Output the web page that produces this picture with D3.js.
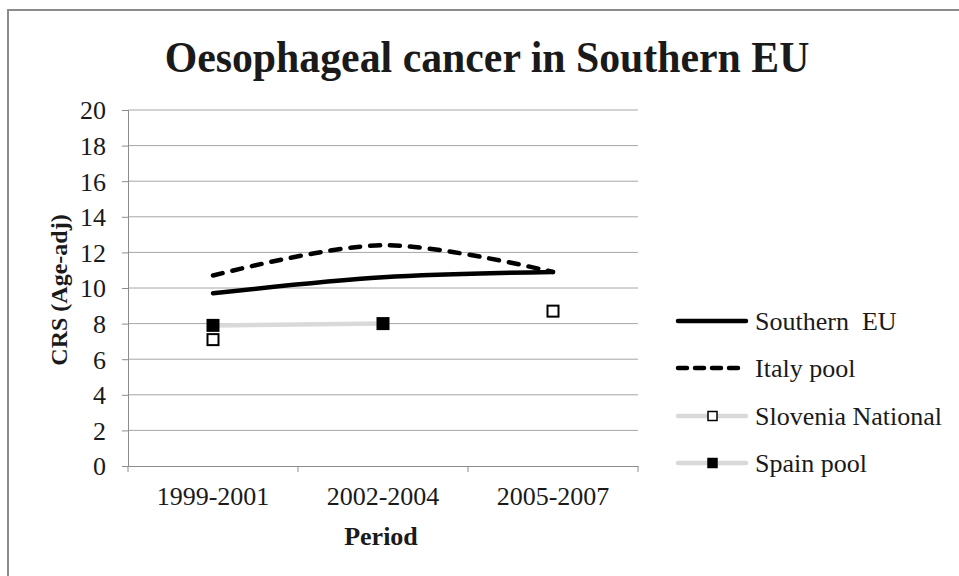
<!DOCTYPE html>
<html>
<head>
<meta charset="utf-8">
<script src="https://cdn.jsdelivr.net/npm/d3@7"></script>
<style>
  body { margin: 0; background: #fff; }
  svg text { font-family: "Liberation Serif", "Times New Roman", serif; fill: #1a1a1a; white-space: pre; }
</style>
</head>
<body>
<svg id="chart"></svg>
<script>
// data
var periods = ["1999-2001", "2002-2004", "2005-2007"];
var southernEU = [9.7, 10.6, 10.9];
var italyPool = [10.7, 12.4, 10.9];
var sloveniaNational = [7.1, null, 8.7];
var spainPool = [7.9, 8.0, null];
var yTicks = [0, 2, 4, 6, 8, 10, 12, 14, 16, 18, 20];

var W = 959, H = 576;
var svg = d3.select("#chart").attr("width", W).attr("height", H);

// outer frame
svg.append("rect").attr("x", 8).attr("y", 10).attr("width", W).attr("height", H)
  .attr("fill", "none").attr("stroke", "#8c8c8c").attr("stroke-width", 2);

var m = {left: 128, top: 110, right: 638, bottom: 466};
var x = d3.scaleBand().domain(periods).range([m.left, m.right]);
var y = d3.scaleLinear().domain([0, 20]).range([m.bottom, m.top]);

var g = svg.append("g");

// gridlines
g.selectAll(".grid").data(yTicks.slice(1)).enter().append("line")
  .attr("x1", m.left).attr("x2", m.right)
  .attr("y1", function(d){ return y(d); }).attr("y2", function(d){ return y(d); })
  .attr("stroke", "#a6a6a6").attr("stroke-width", 1);

// y axis
var yAxis = g.append("g").attr("transform", "translate(" + m.left + ",0)")
  .call(d3.axisLeft(y).tickValues(yTicks).tickSize(6).tickPadding(16));
yAxis.selectAll("text").attr("font-size", 26).attr("dy", "0.34em");

// x axis, ticks on band edges
var xAxis = g.append("g").attr("transform", "translate(0," + m.bottom + ")")
  .call(d3.axisBottom(x).tickSize(0).tickPadding(0));
xAxis.selectAll("text").attr("font-size", 26).attr("dy", null).attr("y", 39);
xAxis.selectAll(".edge").data([m.left].concat(periods.map(function(p){ return x(p) + x.bandwidth(); })))
  .enter().append("line").attr("class", "edge")
  .attr("x1", function(d){ return d; }).attr("x2", function(d){ return d; })
  .attr("y1", 0).attr("y2", 6).attr("stroke", "#8c8c8c");
svg.selectAll(".domain").attr("stroke", "#8c8c8c");
svg.selectAll(".tick line").attr("stroke", "#8c8c8c");

// titles
svg.append("text").attr("x", 487).attr("y", 72).attr("text-anchor", "middle")
  .attr("font-size", 44).attr("font-weight", "bold")
  .attr("transform", "translate(487,0) scale(0.95,1) translate(-487,0)")
  .text("Oesophageal cancer in Southern EU");
svg.append("text").attr("x", 381).attr("y", 545).attr("text-anchor", "middle")
  .attr("font-size", 26).attr("font-weight", "bold").text("Period");
svg.append("text").attr("transform", "translate(67,290) rotate(-90)")
  .attr("text-anchor", "middle").attr("font-size", 24).attr("font-weight", "bold")
  .text("CRS (Age-adj)");

var cx = function(i){ return x(periods[i]) + x.bandwidth() / 2; };
var line = d3.line()
  .defined(function(d){ return d != null; })
  .x(function(d, i){ return cx(i); })
  .y(function(d){ return y(d); })
  .curve(d3.curveCatmullRom.alpha(0.5));

g.append("path").datum(spainPool).attr("d", line).attr("fill", "none")
  .attr("stroke", "#d9d9d9").attr("stroke-width", 4.5);
g.append("path").datum(sloveniaNational).attr("d", line).attr("fill", "none")
  .attr("stroke", "#d9d9d9").attr("stroke-width", 4.5);
g.append("path").datum(southernEU).attr("d", line).attr("fill", "none")
  .attr("stroke", "#000").attr("stroke-width", 4.5).attr("stroke-linecap", "round");
g.append("path").datum(italyPool).attr("d", line).attr("fill", "none")
  .attr("stroke", "#000").attr("stroke-width", 4.5).attr("stroke-linecap", "round")
  .attr("stroke-dasharray", "10,10");

function markers(data, fill) {
  var pts = data.map(function(v, i){ return {v: v, i: i}; }).filter(function(d){ return d.v != null; });
  g.selectAll(null).data(pts).enter().append("rect")
    .attr("x", function(d){ return cx(d.i) - 5.5; })
    .attr("y", function(d){ return y(d.v) - 5.5; })
    .attr("width", 11).attr("height", 11)
    .attr("fill", fill).attr("stroke", "#000").attr("stroke-width", 2);
}
markers(spainPool, "#000");
markers(sloveniaNational, "#fff");

// legend
var legendNames = ["Southern  EU", "Italy pool", "Slovenia National", "Spain pool"];
var legendStroke = ["#000", "#000", "#d9d9d9", "#d9d9d9"];
var legendDash = [null, "9,8", null, null];
var legendMarker = [null, null, "#fff", "#000"];
var lg = svg.append("g").selectAll("g").data(legendNames).enter().append("g")
  .attr("transform", function(d, i){ return "translate(678," + [321, 368, 416, 463][i] + ")"; });
lg.append("line").attr("x1", 0).attr("x2", 68).attr("y1", 0).attr("y2", 0)
  .attr("stroke", function(d, i){ return legendStroke[i]; }).attr("stroke-width", 4.5)
  .attr("stroke-linecap", "round")
  .attr("stroke-dasharray", function(d, i){ return legendDash[i]; });
lg.filter(function(d, i){ return legendMarker[i]; }).append("rect")
  .attr("x", 30).attr("y", -4.5).attr("width", 9).attr("height", 9)
  .attr("fill", function(d){ return legendMarker[legendNames.indexOf(d)]; })
  .attr("stroke", "#000").attr("stroke-width", 1.5);
lg.append("text").attr("x", 77).attr("y", 0).attr("dy", "0.34em").attr("font-size", 26)
  .text(function(d){ return d; });
</script>
</body>
</html>
